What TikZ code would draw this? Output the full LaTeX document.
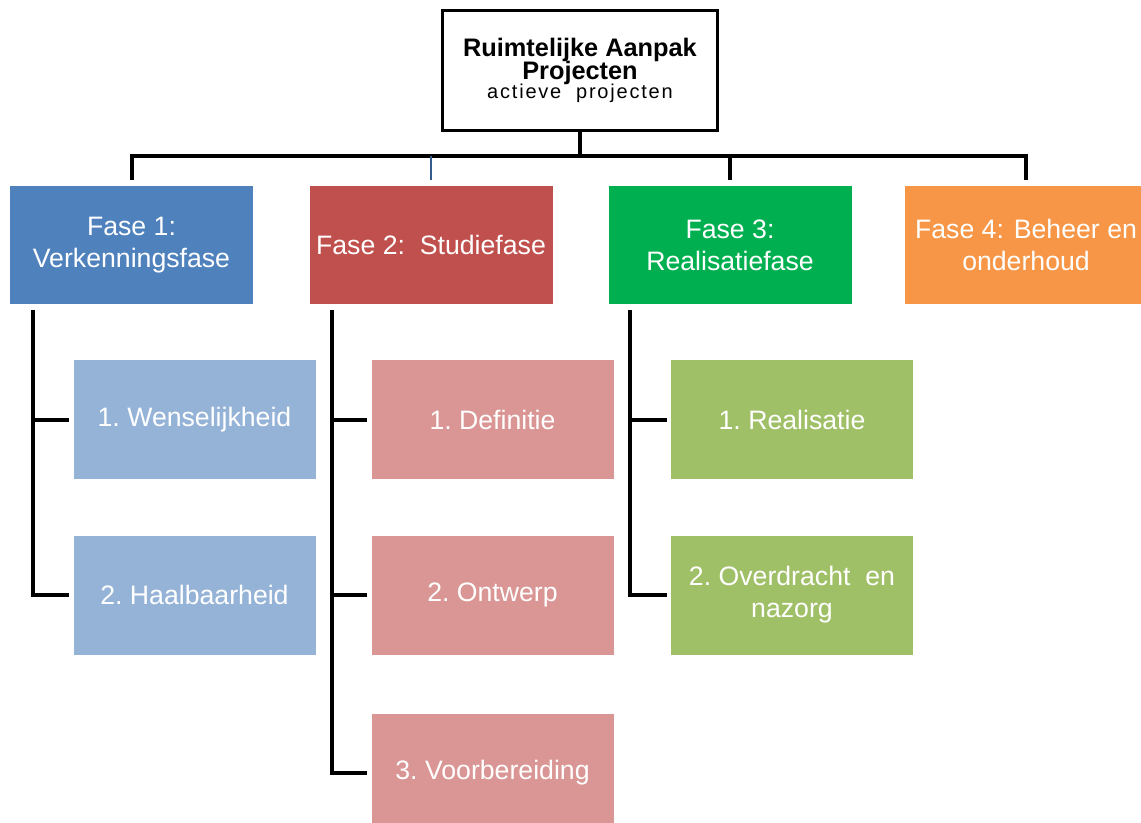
\documentclass[tikz,border=0pt]{standalone}
\usepackage{fontspec}
\setmainfont{Liberation Sans}
\usepackage{tikz}

\begin{document}
\begin{tikzpicture}[x=0.75pt,y=0.75pt,yscale=-1,xscale=1,
  tree/.style={line width=3pt, color=black},
  fase/.style={inner sep=0.75pt, minimum width=182.25pt, minimum height=88.5pt, align=center, text=white, font=\fontsize{20}{24}\selectfont},
  sub/.style={inner sep=0.75pt, minimum width=181.5pt, minimum height=89.25pt, align=center, text=white, font=\fontsize{20}{24}\selectfont}
]
\useasboundingbox (0,0) rectangle (1141,822);

% Text Node
\draw (580,70) node (top) [draw, line width=2.25pt, fill=white, minimum width=206.25pt, minimum height=90pt, align=center, inner sep=0.75pt] {\fontsize{19}{17}\selectfont\bfseries Ruimtelijke Aanpak\\[-1pt] \fontsize{19}{17}\selectfont\bfseries Projecten\\[-2pt] \fontsize{15}{15}\selectfont\addfontfeature{LetterSpace=9}actieve\ \ projecten};

% Fases
\draw (131.5,245) node (f1) [fase, fill={rgb, 255:red, 79; green, 129; blue, 189 }] {Fase 1:\\Verkenningsfase};
\draw (431,245) node (f2) [fase, fill={rgb, 255:red, 192; green, 80; blue, 77 }] {Fase 2:\ \ Studiefase};
\draw (730,245) node (f3) [fase, fill={rgb, 255:red, 0; green, 176; blue, 80 }] {Fase 3:\\Realisatiefase};
\draw (1026,245) node (f4) [fase, fill={rgb, 255:red, 247; green, 150; blue, 70 }] {Fase 4: Beheer en\\onderhoud};

% Fase 1 children
\draw (194.5,419.5) node (w1) [sub, fill={rgb, 255:red, 149; green, 179; blue, 215 }] {1.\ Wenselijkheid};
\draw (194.5,595) node (w2) [sub, fill={rgb, 255:red, 149; green, 179; blue, 215 }] {2.\ Haalbaarheid};
% Fase 2 children
\draw (492.5,419.5) node (s1) [sub, fill={rgb, 255:red, 217; green, 150; blue, 148 }] {1.\ Definitie};
\draw (492.5,595) node (s2) [sub, fill={rgb, 255:red, 217; green, 150; blue, 148 }] {2.\ Ontwerp};
\draw (492.5,773) node (s3) [sub, fill={rgb, 255:red, 217; green, 150; blue, 148 }] {3.\ Voorbereiding};
% Fase 3 children
\draw (792,419.5) node (r1) [sub, fill={rgb, 255:red, 160; green, 192; blue, 104 }] {1.\ Realisatie};
\draw (792,595) node (r2) [sub, fill={rgb, 255:red, 160; green, 192; blue, 104 }] {2.\ Overdracht\ \ en\\nazorg};

\coordinate (bus) at (580,156);

% top to fases
\draw [tree, shorten >=4.5pt] (top.south) -- (bus) -| (f1.north);
\draw [tree, shorten >=4.5pt] (top.south) -- (bus) -| (f3.north);
\draw [tree, shorten >=4.5pt] (top.south) -- (bus) -| (f4.north);
\draw [line width=1.8pt, color={rgb, 255:red, 52; green, 92; blue, 140 }, shorten >=4.5pt] (f2.north |- bus) -- (f2.north);

% fases to children
\draw [tree, shorten <=4.5pt, shorten >=3pt] ([xshift=17.25pt]f1.south west) |- (w2);
\draw [tree, shorten >=3pt] ([xshift=17.25pt]f1.south west |- w1) -- (w1);
\draw [tree, shorten <=4.5pt, shorten >=3pt] ([xshift=17.25pt]f2.south west) |- (s3);
\draw [tree, shorten >=3pt] ([xshift=17.25pt]f2.south west |- s1) -- (s1);
\draw [tree, shorten >=3pt] ([xshift=17.25pt]f2.south west |- s2) -- (s2);
\draw [tree, shorten <=4.5pt, shorten >=3pt] ([xshift=16.5pt]f3.south west) |- (r2);
\draw [tree, shorten >=3pt] ([xshift=16.5pt]f3.south west |- r1) -- (r1);

\end{tikzpicture}
\end{document}
